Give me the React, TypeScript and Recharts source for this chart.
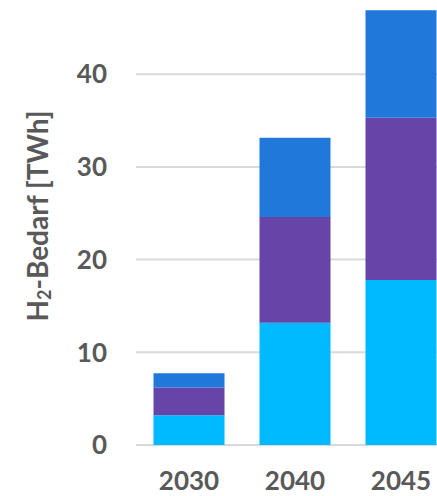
import React from 'react';
import { BarChart, Bar, XAxis, YAxis, CartesianGrid } from 'recharts';

const years = ['2030', '2040', '2045'];
const hellblau = [3.2, 13.2, 17.8];
const violett = [3.0, 11.4, 17.5];
const blau = [1.55, 8.55, 11.6];
const yTicks = [0, 10, 20, 30, 40];

const data = years.map((y, i) => ({ year: y, a: hellblau[i], b: violett[i], c: blau[i] }));

const txt = '#595959';
const font = 'Lato, "Open Sans", sans-serif';

// rotated axis title with subscript 2
const YLabel = () => (
  <text
    x={37}
    y={216}
    transform="rotate(-90 37 216)"
    textAnchor="middle"
    dominantBaseline="central"
    fill={txt}
    fontSize={28}
    fontWeight={700}
    fontFamily={font}
  >
    H<tspan fontSize={18} dy={7}>2</tspan>
    <tspan dy={-7}>-Bedarf [TWh]</tspan>
  </text>
);

export default function App() {
  return (
    <div style={{ position: 'fixed', top: 0, left: 0, width: 437, height: 496, overflow: 'hidden', background: '#fff' }}>
      <BarChart
        width={454}
        height={496}
        data={data}
        margin={{ top: 0, right: 0, left: 0, bottom: 0 }}
        barCategoryGap={17.5}
      >
        <CartesianGrid horizontal vertical={false} syncWithTicks stroke="#d9d9d9" strokeWidth={2} />
        <XAxis
          dataKey="year"
          height={51}
          axisLine={false}
          tickLine={false}
          tickSize={0}
          tickMargin={27}
          tick={{ fill: txt, fontSize: 26, fontWeight: 700, fontFamily: font }}
        />
        <YAxis
          width={136}
          domain={[0, 48]}
          ticks={yTicks}
          axisLine={false}
          tickLine={false}
          tickSize={0}
          tickMargin={29}
          tick={{ fill: txt, fontSize: 26, fontWeight: 700, fontFamily: font }}
          label={{ content: () => <YLabel /> }}
        />
        <Bar dataKey="a" stackId="s" fill="#00baff" isAnimationActive={false} />
        <Bar dataKey="b" stackId="s" fill="#6745a8" isAnimationActive={false} />
        <Bar dataKey="c" stackId="s" fill="#2178db" isAnimationActive={false} />
      </BarChart>
    </div>
  );
}
